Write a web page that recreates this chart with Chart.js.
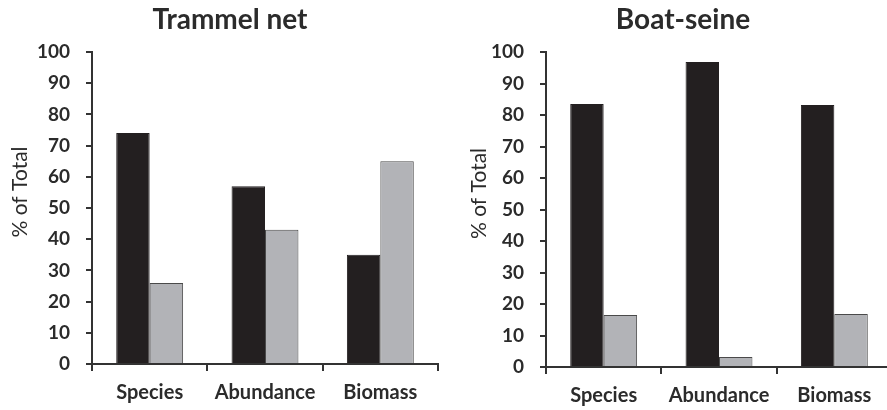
<!DOCTYPE html>
<html>
<head>
<meta charset="utf-8">
<script src="https://cdn.jsdelivr.net/npm/chart.js@4/dist/chart.umd.min.js"></script>
<style>
  html, body { margin: 0; padding: 0; background: #fff; overflow: hidden; }
  body { width: 887px; height: 410px; position: relative; }
  canvas { position: absolute; top: 0; }
  #trammel { left: 0; }
  #seine { left: 445px; }
</style>
</head>
<body>
<canvas id="trammel" width="445" height="410"></canvas>
<canvas id="seine" width="452" height="410"></canvas>
<script>
const categories = ["Species", "Abundance", "Biomass"];
const trammelBlack = [74, 57, 35];
const trammelGrey = [26, 43, 65];
const seineBlack = [83.5, 96.8, 83.2];
const seineGrey = [16.5, 3.2, 16.8];
const yTicks = [0, 10, 20, 30, 40, 50, 60, 70, 80, 90, 100];

const FONT = "Lato, 'Open Sans', sans-serif";
const INK = "#2b2b2b";

// rotated y-axis caption, a bit above the plot's middle like the original
const yCaption = {
    id: "yCaption",
    afterDraw(chart, args, opts) {
        const ctx = chart.ctx;
        const a = chart.chartArea;
        ctx.save();
        ctx.translate(opts.x, (a.top + a.bottom) / 2 - 16);
        ctx.rotate(-Math.PI / 2);
        ctx.font = "21px " + FONT;
        ctx.fillStyle = INK;
        ctx.textAlign = "center";
        ctx.textBaseline = "middle";
        ctx.fillText("% of Total", 0, 0);
        ctx.restore();
    }
};

function makeChart(canvas, title, black, grey, g) {
    return new Chart(canvas, {
        type: "bar",
        data: {
            labels: categories,
            datasets: [{
                data: black,
                backgroundColor: "#231f20",
                borderColor: "#231f20",
                borderWidth: 1
            }, {
                data: grey,
                backgroundColor: "#b2b3b7",
                borderColor: "#4a4a4a",
                borderWidth: 1
            }]
        },
        options: {
            responsive: false,
            animation: false,
            devicePixelRatio: 1,
            layout: { padding: { left: g.left, right: g.right, top: 0, bottom: 0 } },
            datasets: { bar: { barPercentage: 1, categoryPercentage: 0.58 } },
            plugins: {
                legend: { display: false },
                tooltip: { enabled: false },
                title: {
                    display: true,
                    text: title,
                    color: INK,
                    font: { family: FONT, size: 28, weight: "bold", lineHeight: 1.2 },
                    padding: { top: g.titleTop, bottom: g.top - g.titleTop - 33.6 }
                },
                yCaption: { x: g.capX }
            },
            scales: {
                x: {
                    afterFit: s => { s.height = g.xh; },
                    border: { color: "#333", width: 2 },
                    grid: { drawOnChartArea: false, offset: true, tickLength: 7, color: "#333", lineWidth: 2 },
                    ticks: { color: INK, padding: 10, font: { family: FONT, size: 20, weight: "bold" } }
                },
                y: {
                    min: 0,
                    max: 100,
                    afterFit: s => { s.width = g.yw; },
                    afterBuildTicks: s => { s.ticks = yTicks.map(v => ({ value: v })); },
                    border: { color: "#333", width: 2 },
                    grid: { drawOnChartArea: false, tickLength: 6, color: "#333", lineWidth: 2 },
                    ticks: { color: INK, padding: 16, font: { family: FONT, size: 19, weight: "bold" } }
                }
            }
        },
        plugins: [yCaption]
    });
}

makeChart(document.getElementById("trammel"), "Trammel net", trammelBlack, trammelGrey,
    { left: 22, right: 7, top: 52, titleTop: 3, xh: 46, yw: 70, capX: 20 });
makeChart(document.getElementById("seine"), "Boat-seine", seineBlack, seineGrey,
    { left: 29, right: 5, top: 52, titleTop: 3, xh: 43, yw: 72, capX: 34 });
</script>
</body>
</html>
